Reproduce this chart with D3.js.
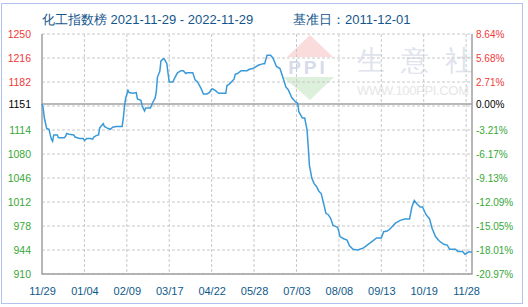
<!DOCTYPE html>
<html>
<head>
<meta charset="utf-8">
<script src="https://cdn.jsdelivr.net/npm/d3@7"></script>
<style>
  body { margin: 0; background: #fff; }
  text { font-family: "Liberation Sans", Arial, sans-serif; }
</style>
</head>
<body>
<div class="chart"></div>
<script>
// index values (day offset from 2021-11-29)
const days = [0,1,2,4,6,7,8,9,10,13,14,19,20,21,23,27,28,32,35,36,38,41,43,44,46,48,49,51,52,53,55,58,60,63,68,69,70,71,73,74,77,80,81,84,85,87,88,92,94,96,97,98,100,101,103,104,106,107,108,111,113,115,118,120,122,123,128,130,132,135,137,140,142,144,145,147,150,156,157,159,163,164,166,169,174,176,179,184,188,189,191,194,196,199,202,205,207,209,212,215,217,218,221,223,225,226,227,228,229,231,233,235,237,239,241,243,245,247,251,253,256,259,261,264,268,273,276,280,284,288,290,293,295,300,304,308,312,314,316,318,321,323,326,329,331,334,337,341,344,346,351,353,357,359,362,365];
const values = [1151,1145,1131,1116,1115,1107,1101,1098,1107,1107,1103,1103,1105,1109,1108,1107,1104,1102,1102,1099,1102,1102,1101,1104,1106,1107,1117,1121,1123,1119,1117,1115,1118,1119,1119,1130,1147,1159,1170,1167,1166,1167,1158,1156,1148,1141,1145,1145,1153,1159,1168,1189,1197,1212,1215,1214,1208,1194,1182,1182,1189,1195,1198,1198,1194,1195,1195,1185,1182,1173,1165,1165,1167,1172,1172,1170,1166,1166,1177,1179,1186,1193,1194,1198,1198,1200,1201,1206,1208,1208,1220,1220,1216,1204,1201,1186,1175,1171,1160,1154,1152,1140,1131,1131,1114,1090,1064,1055,1046,1038,1034,1027,1024,1010,996,994,989,979,976,963,960,958,950,945,944,947,951,956,961,961,970,971,973,982,986,988,988,1005,1014,1010,1005,1005,994,988,975,963,957,952,951,945,945,942,942,938,941,941];

const baseValue = 1151;
const gridValues = [1250,1216,1182,1148,1114,1080,1046,1012,978,944,910];
const leftLabels = [1250,1216,1182,1151,1114,1080,1046,1012,978,944,910];
const rightLabels = ['8.64%','5.68%','2.71%','0.00%','-3.21%','-6.17%','-9.13%','-12.09%','-15.05%','-18.01%','-20.97%'];
const xLabels = ['11/29','01/04','02/09','03/17','04/22','05/28','07/03','08/08','09/13','10/19','11/28'];

const width = 528;
const height = 307;
const start = new Date(2021, 10, 29);

const svg = d3.select('.chart').append('svg')
  .attr('width', width)
  .attr('height', height);

const x = d3.scaleTime()
  .domain([start, d3.timeDay.offset(start, 365)])
  .range([42, 472]);
const y = d3.scaleLinear()
  .domain([910, 1250])
  .range([274, 34]);

const xTicks = xLabels.map((d,i)=>d3.timeDay.offset(start, 36*i));

// outer frame
svg.append('rect')
  .attr('x', 1.5).attr('y', 3.5)
  .attr('width', 521).attr('height', 300)
  .attr('fill', 'none')
  .attr('stroke', '#b4c2f0');

// watermark
const wm = svg.append('g');
wm.append('path').attr('d', 'M310,35 L333,57 L287,57 Z').attr('fill', '#fadcdc');
wm.append('path').attr('d', 'M283,77 L334,77 L310,100 Z').attr('fill', '#dcf0dc');
wm.append('text').attr('x', 308).attr('y', 74)
  .attr('text-anchor', 'middle')
  .attr('font-family', 'Liberation Serif, serif')
  .attr('font-size', 19).attr('font-weight', 'bold')
  .attr('letter-spacing', 3)
  .attr('fill', '#d6dcea')
  .text('PPI');
wm.selectAll('.wm-char')
  .data(['生','意','社'])
  .enter()
  .append('text')
  .attr('class', 'wm-char')
  .attr('x', (d,i)=>357+i*44)
  .attr('y', 70)
  .attr('font-family', '"Noto Sans CJK SC", sans-serif')
  .attr('font-size', 28)
  .attr('fill', '#dfe3ee')
  .text(d=>d);
wm.append('text').attr('x', 357).attr('y', 95)
  .attr('font-size', 13)
  .attr('textLength', 112)
  .attr('fill', '#e6e6e6')
  .text('WWW.100PPI.COM');

// grid
svg.selectAll('.hgrid')
  .data(gridValues)
  .enter()
  .append('line')
  .attr('class', 'hgrid')
  .attr('x1', 42).attr('x2', 472)
  .attr('y1', d=>y(d)).attr('y2', d=>y(d))
  .attr('stroke', '#c8c8c8')
  .attr('stroke-dasharray', '3,2');

svg.selectAll('.vgrid')
  .data(xTicks.slice(1))
  .enter()
  .append('line')
  .attr('class', 'vgrid')
  .attr('x1', d=>x(d)).attr('x2', d=>x(d))
  .attr('y1', 34).attr('y2', 274)
  .attr('stroke', '#c8c8c8')
  .attr('stroke-dasharray', '3,2');

// base line
svg.append('line')
  .attr('x1', 42).attr('x2', 472)
  .attr('y1', y(baseValue)).attr('y2', y(baseValue))
  .attr('stroke', '#a0a0a0')
  .attr('stroke-width', 1.5);

// plot frame
svg.append('path')
  .attr('d', `M42,34 V274 H472 V34`)
  .attr('fill', 'none')
  .attr('stroke', '#a0a0a0')
  .attr('stroke-width', 1.5);

// the index line
const data = days.map((d,i)=>({date: d3.timeDay.offset(start, d), value: values[i]}));
svg.append('path')
  .datum(data)
  .attr('fill', 'none')
  .attr('stroke', '#3a9ad9')
  .attr('stroke-width', 1.5)
  .attr('d', d3.line().x(d=>x(d.date)).y(d=>y(d.value)));

const tickColor = v=>v>baseValue?'#f03a3a':v<baseValue?'#36a836':'#000';

// left labels
svg.selectAll('.left-label')
  .data(leftLabels)
  .enter()
  .append('text')
  .attr('class', 'left-label')
  .attr('x', 31)
  .attr('y', d=>y(d))
  .attr('dy', 4)
  .attr('text-anchor', 'end')
  .attr('font-size', 10.5)
  .attr('fill', tickColor)
  .text(d=>d);

// right labels
svg.selectAll('.right-label')
  .data(rightLabels)
  .enter()
  .append('text')
  .attr('class', 'right-label')
  .attr('x', 476)
  .attr('y', (d,i)=>y(leftLabels[i]))
  .attr('dy', 4)
  .attr('font-family', '"DejaVu Sans Mono", monospace')
  .attr('font-size', 10)
  .attr('fill', (d,i)=>tickColor(leftLabels[i]))
  .text(d=>d);

// x labels
svg.append('g')
  .attr('transform', 'translate(0,295)')
  .call(d3.axisBottom(x).tickValues(xTicks).tickSize(0).tickPadding(0)
    .tickFormat((d,i)=>xLabels[i]))
  .call(g=>g.select('.domain').remove())
  .call(g=>g.selectAll('text')
    .attr('dy', 0)
    .attr('fill', '#0e5a8a')
    .attr('font-size', 11)
    .attr('font-family', '"Liberation Sans", Arial, sans-serif'));

// title
svg.append('text')
  .attr('x', 42).attr('y', 24)
  .attr('font-family', '"DejaVu Sans", "Noto Sans CJK SC", sans-serif')
  .attr('font-size', 13)
  .attr('fill', '#14568c')
  .text('化工指数榜 2021-11-29 - 2022-11-29');
svg.append('text')
  .attr('x', 293).attr('y', 24)
  .attr('font-family', '"DejaVu Sans", "Noto Sans CJK SC", sans-serif')
  .attr('font-size', 13)
  .attr('fill', '#14568c')
  .text('基准日：2011-12-01');
</script>
</body>
</html>
